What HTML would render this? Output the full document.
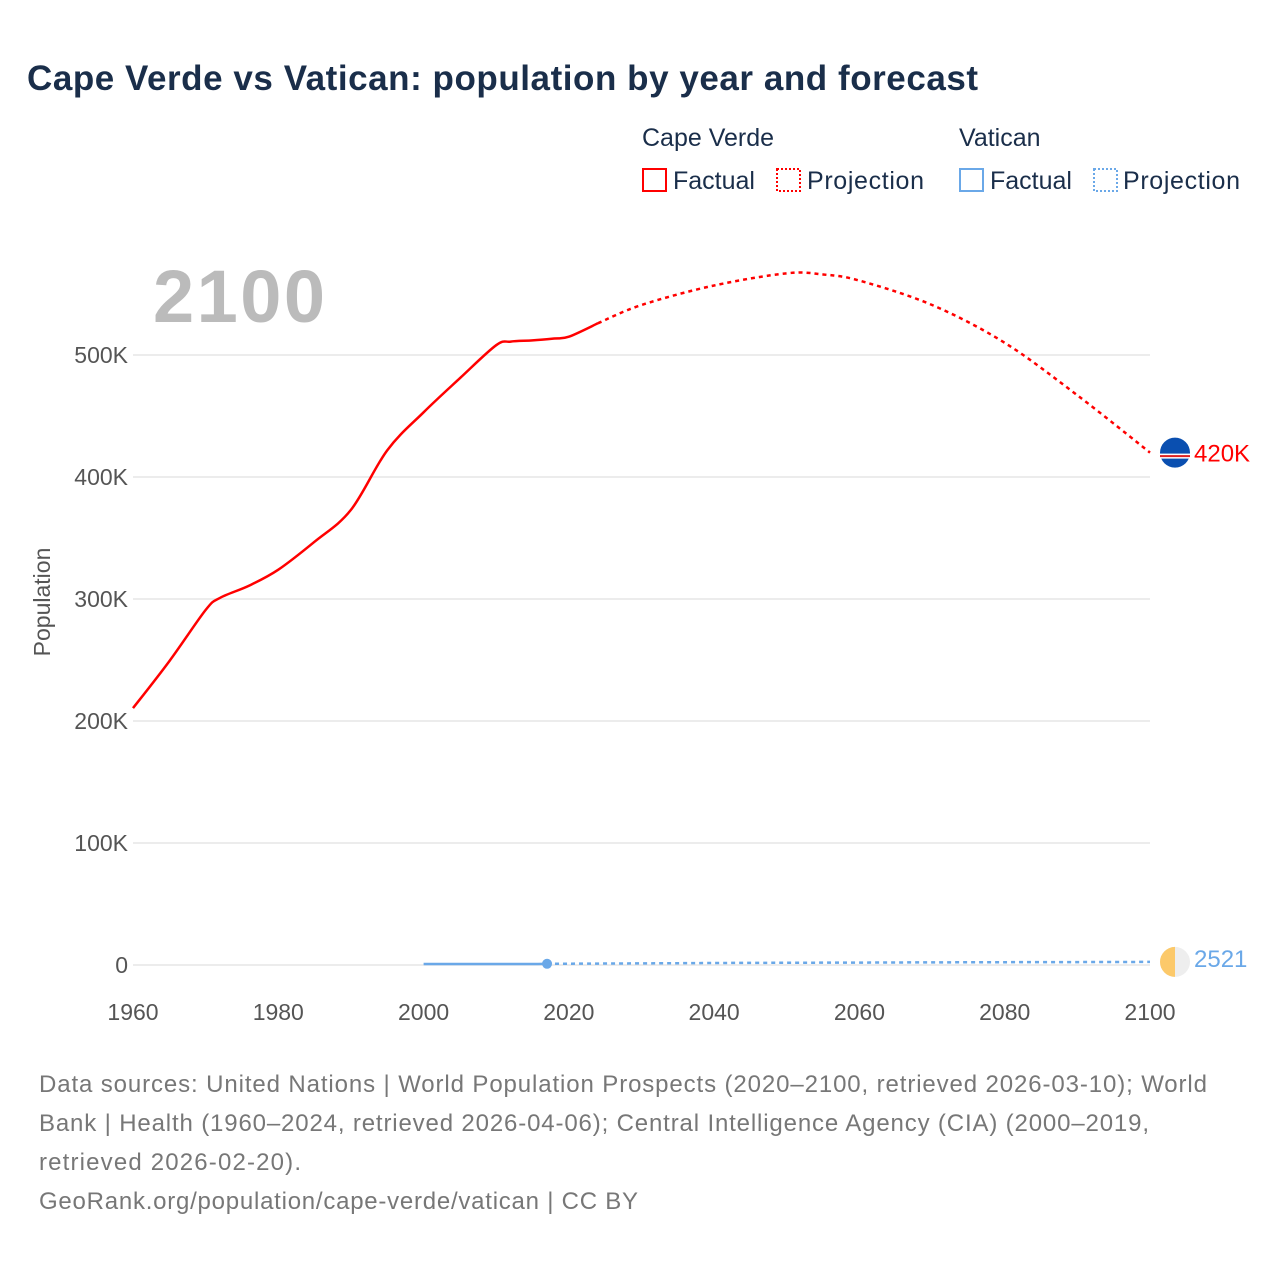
<!DOCTYPE html>
<html><head><meta charset="utf-8"><style>
body{margin:0;background:#fff;font-family:"Liberation Sans",sans-serif;}
svg text{font-family:"Liberation Sans",sans-serif;}
</style></head><body>
<svg width="1280" height="1280" viewBox="0 0 1280 1280">
<text x="27" y="90" font-size="35" font-weight="bold" fill="#1a2e4a" textLength="951">Cape Verde vs Vatican: population by year and forecast</text>
<g font-size="25" fill="#1a2e4a">
<text x="642" y="146">Cape Verde</text>
<rect x="643" y="169" width="23" height="22" fill="none" stroke="red" stroke-width="2"/>
<text x="673" y="189">Factual</text>
<rect x="777" y="169" width="23" height="22" fill="none" stroke="red" stroke-width="2" stroke-dasharray="2,2"/>
<text x="807" y="189" textLength="117">Projection</text>
<text x="959" y="146">Vatican</text>
<rect x="960" y="169" width="23" height="22" fill="none" stroke="#6aa8e8" stroke-width="2"/>
<text x="990" y="189">Factual</text>
<rect x="1094" y="169" width="23" height="22" fill="none" stroke="#6aa8e8" stroke-width="2" stroke-dasharray="2,2"/>
<text x="1123" y="189" textLength="117">Projection</text>
</g>
<text x="153" y="322" font-size="74" font-weight="bold" fill="#bbb" textLength="172">2100</text>
<text transform="translate(50,602) rotate(-90)" text-anchor="middle" font-size="23" fill="#555">Population</text>
<g id="grid"></g><g id="series"></g>
<g font-size="24" fill="#777">
<text x="39" y="1092" textLength="1168">Data sources: United Nations | World Population Prospects (2020–2100, retrieved 2026-03-10); World</text>
<text x="39" y="1131" textLength="1110">Bank | Health (1960–2024, retrieved 2026-04-06); Central Intelligence Agency (CIA) (2000–2019,</text>
<text x="39" y="1170" textLength="262">retrieved 2026-02-20).</text>
<text x="39" y="1209" textLength="599">GeoRank.org/population/cape-verde/vatican | CC BY</text>
</g>
</svg>
<script>
const yTicks=[0,100000,200000,300000,400000,500000];
const yTickLabels=["0","100K","200K","300K","400K","500K"];
const xTicks=[1960,1980,2000,2020,2040,2060,2080,2100];
const cvYears=[1960,1965,1970,1972,1976,1980,1985,1990,1995,2000,2005,2010,2012,2015,2018,2020,2024];
const cvPop=[210600,249000,291000,301000,311000,324000,347000,373000,422000,453000,481000,508000,511000,512000,513500,515000,526000];
const cvProjYears=[2024,2030,2040,2050,2055,2060,2070,2080,2090,2100];
const cvProjPop=[526000,541000,557000,567000,566000,561000,541000,510000,467000,420000];
const vaYears=[2000,2005,2010,2015,2017];
const vaPop=[800,800,800,800,1000];
const vaProjYears=[2017,2040,2060,2080,2100];
const vaProjPop=[1000,1600,2000,2300,2521];
const NS="http://www.w3.org/2000/svg";
const X=y=>133+(y-1960)*(1017/140);
const Y=v=>965-v*(610/500000);
function mk(t,a,p){const e=document.createElementNS(NS,t);for(const k in a)e.setAttribute(k,a[k]);p.appendChild(e);return e;}
const g=document.getElementById('grid'),s=document.getElementById('series');
yTicks.forEach((v,i)=>{
 const l=mk('line',{x1:133,x2:1150,y1:Y(v),y2:Y(v),stroke:'#e6e6e6','stroke-width':1.5},g);
 
 
 const t=mk('text',{x:128,y:Y(v)+8,'text-anchor':'end','font-size':23,fill:'#555'},g);t.textContent=yTickLabels[i];
 
 
});
xTicks.forEach(v=>{
 const t=mk('text',{x:X(v),y:1020,'text-anchor':'middle','font-size':23,fill:'#555'},g);t.textContent=v;
 
 
});
function path(xs,vs){
 const P=xs.map((x,i)=>[X(x),Y(vs[i])]);
 let d='M'+P[0][0].toFixed(1)+','+P[0][1].toFixed(1);
 for(let i=0;i<P.length-1;i++){
  const p0=P[i-1]||P[i],p1=P[i],p2=P[i+1],p3=P[i+2]||P[i+1];
  const c1=[p1[0]+(p2[0]-p0[0])/6,p1[1]+(p2[1]-p0[1])/6],c2=[p2[0]-(p3[0]-p1[0])/6,p2[1]-(p3[1]-p1[1])/6];
  d+='C'+c1.map(n=>n.toFixed(1))+' '+c2.map(n=>n.toFixed(1))+' '+p2.map(n=>n.toFixed(1));
 }
 return d;
}
let p=mk('path',{d:path(cvYears,cvPop),fill:'none',stroke:'red','stroke-width':2.5},s);


p=mk('path',{d:path(cvProjYears,cvProjPop),fill:'none',stroke:'red','stroke-width':2.5,'stroke-dasharray':'4,4'},s);


p=mk('path',{d:path(vaYears,vaPop),fill:'none',stroke:'#6aa8e8','stroke-width':2.5},s);


p=mk('path',{d:path(vaProjYears,vaProjPop),fill:'none',stroke:'#6aa8e8','stroke-width':2.5,'stroke-dasharray':'4,4'},s);


const d=mk('circle',{cx:X(vaYears[vaYears.length-1]),cy:Y(vaPop[vaPop.length-1]),r:5,fill:'#6aa8e8'},s);


const cy1=Y(cvProjPop[cvProjPop.length-1]);
const f1=mk('g',{},s);


mk('circle',{cx:1175,cy:cy1,r:15,fill:'#0a4fb0'},f1);
mk('rect',{x:1160,y:cy1+1,width:30,height:5,fill:'#fff'},f1);
mk('rect',{x:1160,y:cy1+2.5,width:30,height:2,fill:'#d22'},f1);
const t1=mk('text',{x:1194,y:cy1+9,'font-size':24,fill:'red'},s);t1.textContent='420K';


const cy2=Y(vaProjPop[vaProjPop.length-1]);
const f2=mk('g',{},s);


mk('circle',{cx:1175,cy:cy2,r:15,fill:'#eee'},f2);
mk('path',{d:`M1175,${cy2-15}A15,15 0 0 0 1175,${cy2+15}Z`,fill:'#fcc96a'},f2);
const t2=mk('text',{x:1194,y:cy2+5,'font-size':24,fill:'#6aa8e8'},s);t2.textContent='2521';


</script>
</body></html>
